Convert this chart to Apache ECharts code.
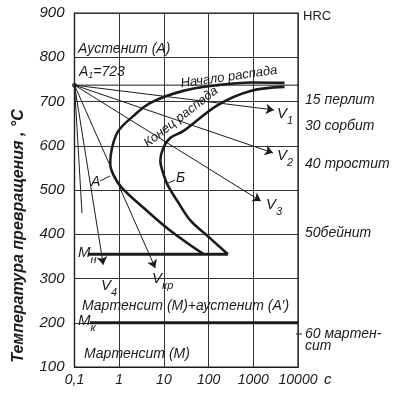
<!DOCTYPE html>
<html><head><meta charset="utf-8">
<script src="https://cdn.jsdelivr.net/npm/echarts@6/dist/echarts.min.js"></script>
<style>html,body{margin:0;padding:0;background:#fff}#c{width:398px;height:396px}</style>
</head><body><div id="c"></div>
<script>
// ---- data ----
const timeMin = 0.1, timeMax = 10000;           // s, log scale
const tempMin = 100, tempMax = 900, tempStep = 100; // °C
// C-curve "Начало распада" (start of transformation)
const startTimes = [5000, 870, 160, 27, 5, 2.06, 0.95, 0.69, 0.63, 0.75, 1.15, 3.5, 14, 77];
const startTemps = [742, 743, 737, 724, 697, 667, 633, 595, 560, 533, 505, 460, 408, 355];
// C-curve "Конец распада" (end of transformation)
const endTimes = [5000, 870, 160, 27, 14, 9.7, 8.3, 9.3, 12, 20, 40, 95, 270];
const endTemps = [733, 724, 692, 633, 618, 595, 566, 543, 512, 475, 430, 396, 355];
// critical temperatures
const A1 = 737;                       // drawn level of A1 = 723
const MnTemp = 355, MnTimes = [0.2, 270];
const MkTemp = 200, MkTimes = [0.22, 10000];
// cooling rays from the A1 point
const rayStart = [0.1, 737];
const rayNames = ['1', '2', '3', 'кр', '4'];
const rayEndTimes = [2890, 2750, 1470, 6.4, 0.44];
const rayEndTemps = [681, 584, 475, 324, 331];
const plainRayEnd = [0.147, 448];
// right-hand hardness scale
const hrcValues = ['15', '30', '40', '50', '60'];
const hrcNames = ['перлит', 'сорбит', 'тростит', 'бейнит', 'мартен-'];

// ---- chart ----
const FONT = 'Liberation Sans';
const INK = '#1b1b1b';
const pairs = (xs, ys) => xs.map((x, i) => [x, ys[i]]);

const chart = echarts.init(document.getElementById('c'), null, {renderer: 'canvas'});

const arrowLines = rayEndTimes.map((t, i) => ({coords: [rayStart, [t, rayEndTemps[i]]]}));

const txt = (x, y, text, extra) => ({
  type: 'text', x, y, z: 10,
  style: Object.assign({text, fontFamily: FONT, fontStyle: 'italic', fontSize: 14, fill: INK,
    align: 'left', verticalAlign: 'middle'}, extra || {})
});
const sub = (x, y, main, s) => ({
  type: 'text', x, y, z: 10,
  style: {text: '{v|' + main + '}{s|' + s + '}', fontFamily: FONT, fill: INK, align: 'left', verticalAlign: 'middle',
    rich: {v: {fontSize: 15, fontStyle: 'italic', fontFamily: FONT, fill: INK, lineHeight: 20, verticalAlign: 'top'},
           s: {fontSize: 11, fontStyle: 'italic', fontFamily: FONT, fill: INK, lineHeight: 20, verticalAlign: 'bottom', padding: [8, 0, 0, 0]}}}
});

const hrcY = [100, 126, 164, 233, 334];
const graphics = [
  txt(78, 49, 'Аустенит (А)'),
  {type: 'text', x: 79, y: 72, z: 10, style: {text: '{v|A}{s|1}{v|=723}', fontFamily: FONT, fill: INK, verticalAlign: 'middle',
    rich: {v: {fontSize: 14, fontStyle: 'italic', fontFamily: FONT, fill: INK}, s: {fontSize: 9, fontStyle: 'italic', fontFamily: FONT, fill: INK, padding: [6, 0, 0, 0]}}}},
  Object.assign(txt(229, 77, 'Начало распада', {align: 'center', fontSize: 13}), {rotation: 8 * Math.PI / 180}),
  Object.assign(txt(181, 117, 'Конец распада', {align: 'center', fontSize: 13}), {rotation: 38 * Math.PI / 180}),
  txt(91, 182, 'А'),
  txt(176, 178, 'Б'),
  {type: 'line', z: 10, shape: {x1: 100, y1: 181, x2: 110, y2: 176}, style: {stroke: INK, lineWidth: 1}},
  {type: 'line', z: 10, shape: {x1: 175, y1: 180, x2: 166, y2: 184}, style: {stroke: INK, lineWidth: 1}},
  txt(82, 306, 'Мартенсит (М)+аустенит (А′)'),
  txt(84, 354, 'Мартенсит (М)'),
  sub(78, 255, 'M', 'н'),
  sub(78, 323, 'M', 'к'),
  sub(277, 116, 'V', rayNames[0]),
  sub(277, 158, 'V', rayNames[1]),
  sub(266, 207, 'V', rayNames[2]),
  sub(152, 281, 'V', rayNames[3]),
  sub(101, 288, 'V', rayNames[4]),
  txt(303, 16, 'HRC', {fontStyle: 'normal', fontSize: 13}),
  txt(305, hrcY[4] + 12, 'сит'),
  {type: 'line', z: 10, shape: {x1: 296, y1: hrcY[4], x2: 302, y2: hrcY[4]}, style: {stroke: INK, lineWidth: 1}},
  txt(324, 380, 'с', {fontSize: 15}),
  {type: 'text', x: 19, y: 236, rotation: Math.PI / 2, z: 10,
    style: {text: 'Температура превращения , °С', fontFamily: FONT, fontStyle: 'italic', fontWeight: 'bold', fontSize: 16,
      fill: INK, align: 'center', verticalAlign: 'middle'}}
];
hrcValues.forEach((v, i) => graphics.push(txt(305, hrcY[i], v + (i === 3 ? '' : ' ') + hrcNames[i])));

chart.setOption({
  animation: false,
  backgroundColor: '#fff',
  grid: {left: 74.5, right: 100, top: 13, bottom: 29, show: true, borderColor: INK, borderWidth: 1.2, containLabel: false},
  xAxis: {
    type: 'log', logBase: 10, min: timeMin, max: timeMax,
    axisLine: {show: true, lineStyle: {color: INK, width: 1.2}},
    axisTick: {show: false},
    splitLine: {show: true, lineStyle: {color: '#333', width: 1}},
    minorSplitLine: {show: false},
    axisLabel: {margin: 6, fontFamily: FONT, fontStyle: 'italic', fontSize: 14, color: INK,
      formatter: v => v < 1 ? '0,1' : String(Math.round(v))}
  },
  yAxis: {
    type: 'value', min: tempMin, max: tempMax, interval: tempStep,
    axisLine: {show: true, lineStyle: {color: INK, width: 1.2}},
    axisTick: {show: false},
    splitLine: {show: true, lineStyle: {color: '#333', width: 1}},
    axisLabel: {margin: 10, fontFamily: FONT, fontStyle: 'italic', fontSize: 15, color: INK}
  },
  series: [
    {type: 'line', data: [[timeMin, A1], [timeMax, A1]], symbol: 'none', lineStyle: {color: INK, width: 1}, z: 3},
    {type: 'line', data: pairs(startTimes, startTemps), smooth: 0.35, symbol: 'none', lineStyle: {color: INK, width: 2.6}, z: 5},
    {type: 'line', data: pairs(endTimes, endTemps), smooth: 0.35, symbol: 'none', lineStyle: {color: INK, width: 2.6}, z: 5},
    {type: 'line', data: MnTimes.map(t => [t, MnTemp]), symbol: 'none', lineStyle: {color: INK, width: 3}, z: 5},
    {type: 'line', data: MkTimes.map(t => [t, MkTemp]), symbol: 'none', lineStyle: {color: INK, width: 3}, z: 5},
    {type: 'lines', coordinateSystem: 'cartesian2d', data: arrowLines, symbol: ['none', 'arrow'], symbolSize: 8,
      lineStyle: {color: INK, width: 1, opacity: 1}, z: 4},
    {type: 'lines', coordinateSystem: 'cartesian2d', data: [{coords: [rayStart, plainRayEnd]}], symbol: 'none',
      lineStyle: {color: INK, width: 1, opacity: 1}, z: 4},
    {type: 'scatter', data: [rayStart], symbolSize: 5, itemStyle: {color: INK}, z: 6}
  ],
  graphic: graphics
});
</script></body></html>
